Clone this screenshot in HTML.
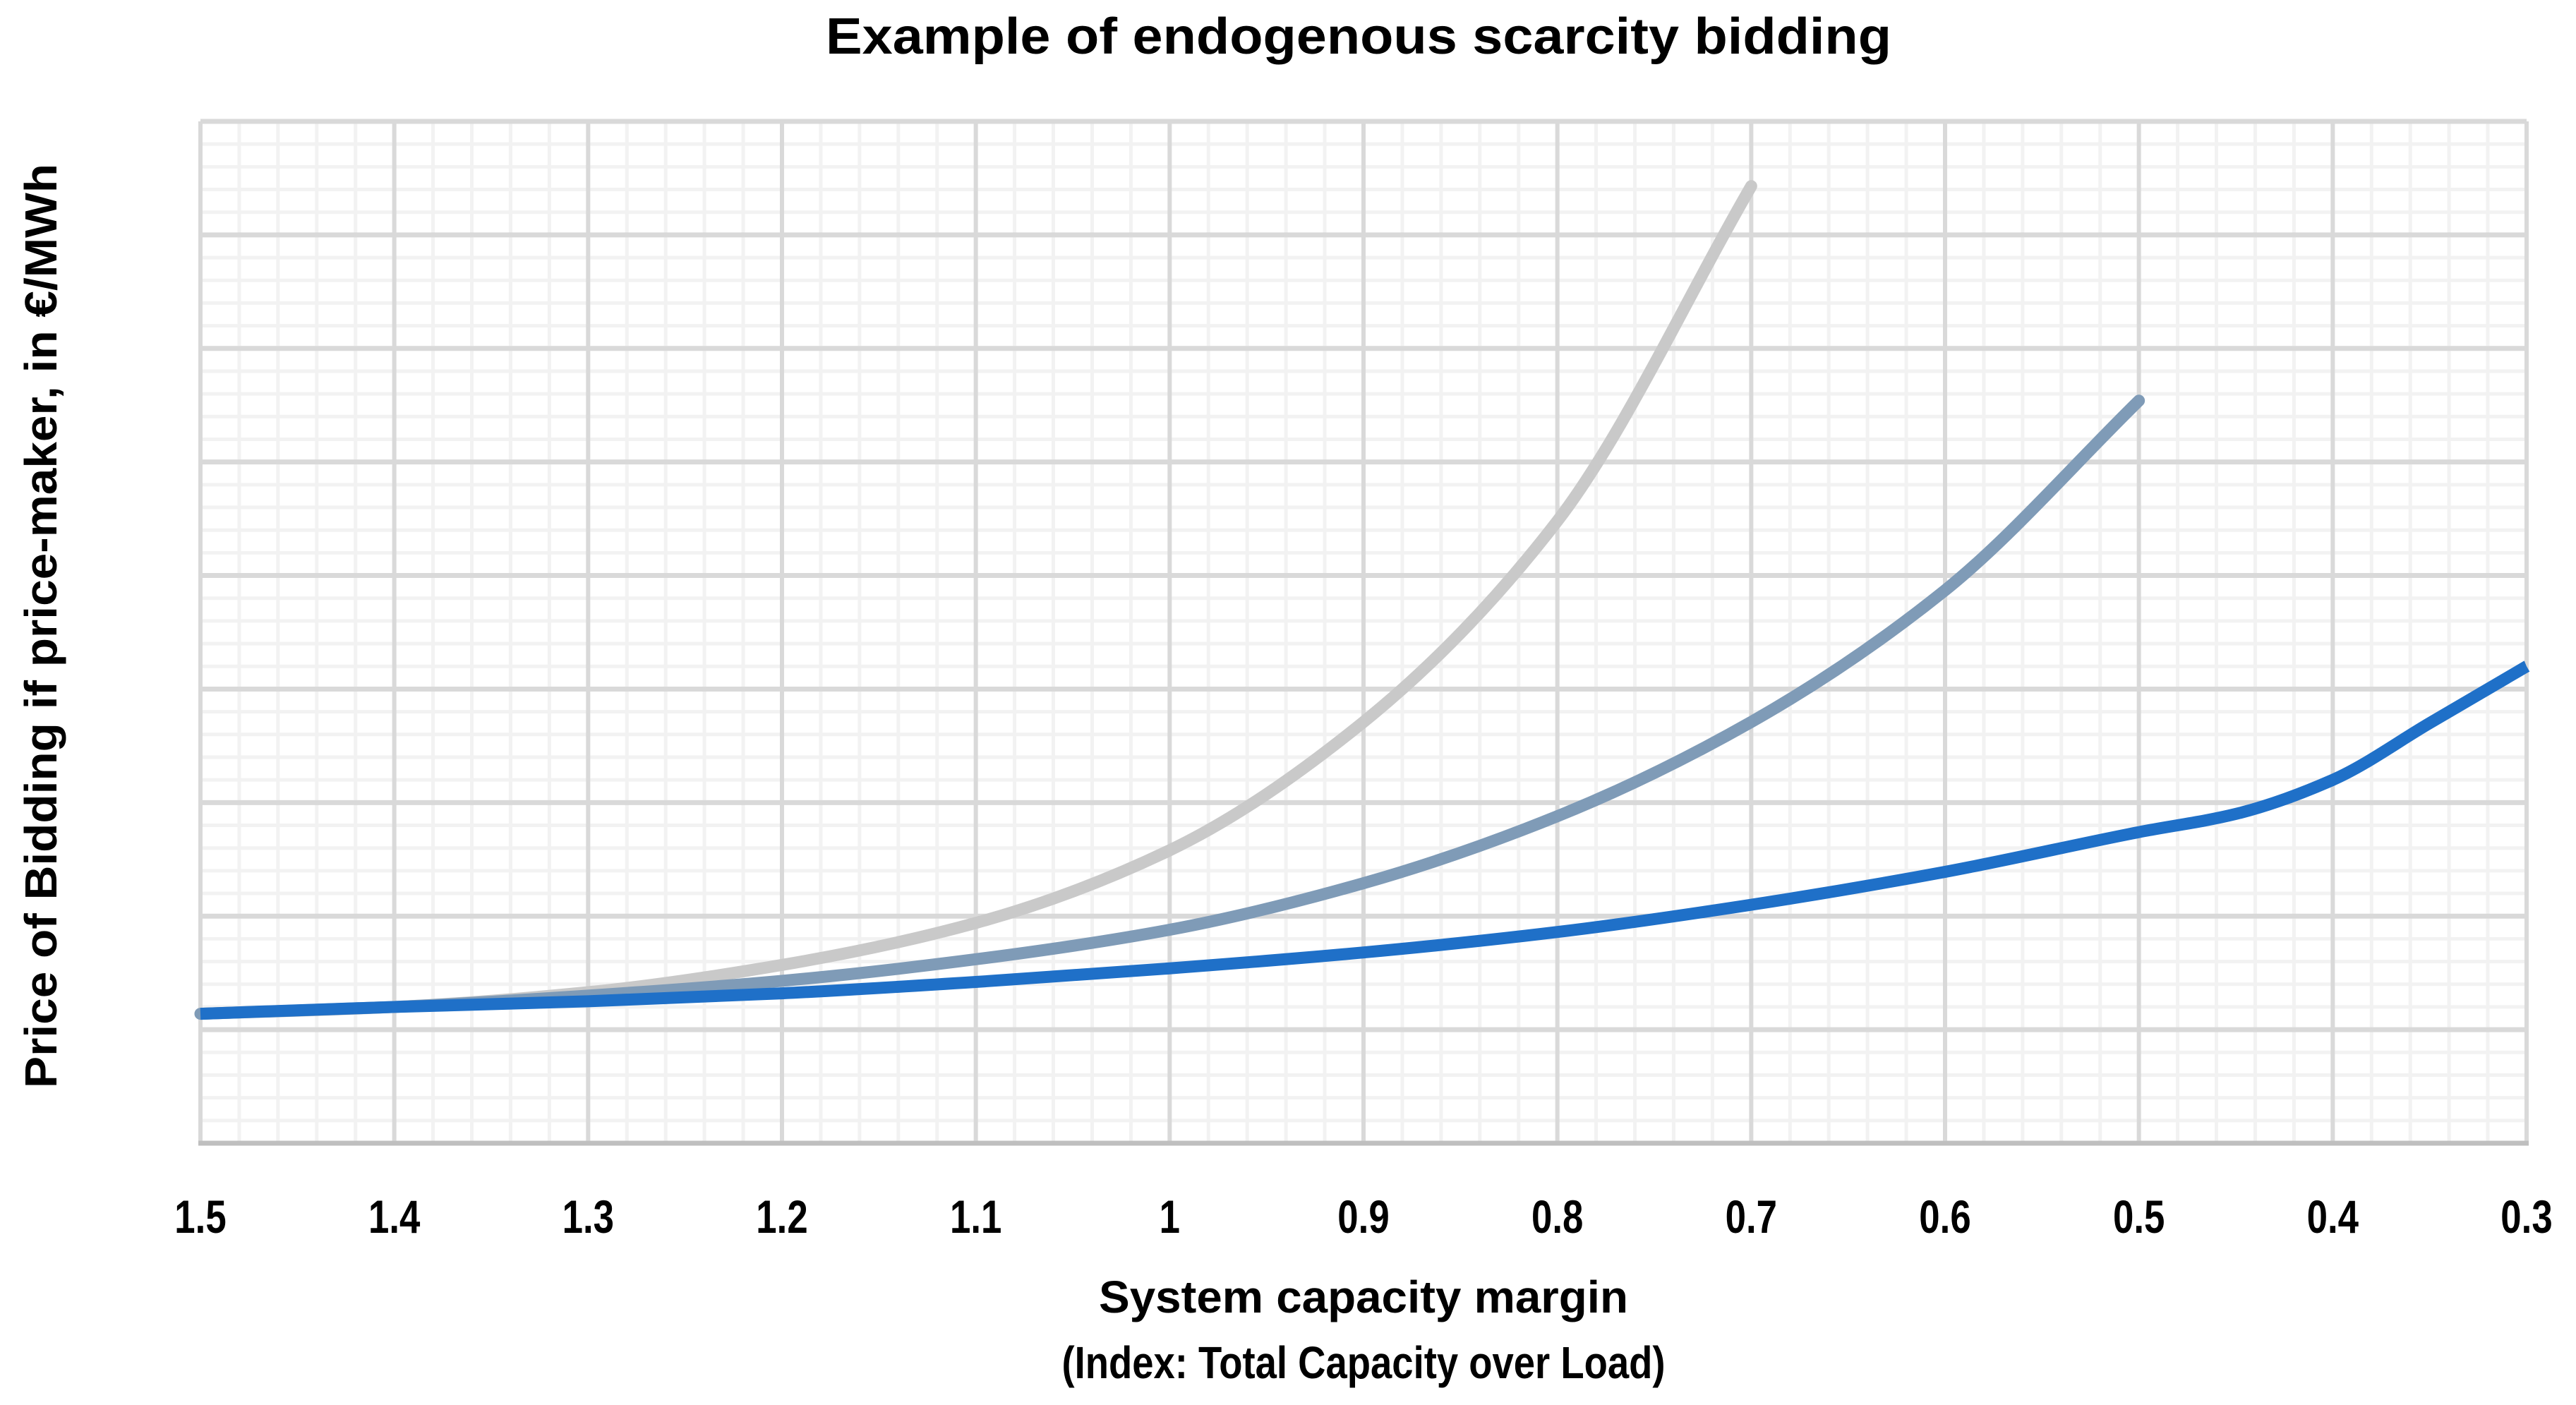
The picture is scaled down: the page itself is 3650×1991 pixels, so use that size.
<!DOCTYPE html>
<html><head><meta charset="utf-8"><style>
html,body{margin:0;padding:0;background:#fff;}
svg{display:block;font-family:"Liberation Sans",sans-serif;font-weight:bold;}
</style></head><body>
<svg id="chart" width="3650" height="1991" viewBox="0 0 3650 1991" xmlns="http://www.w3.org/2000/svg">
<text x="1925" y="76" font-size="72" text-anchor="middle" textLength="1510" lengthAdjust="spacingAndGlyphs">Example of endogenous scarcity bidding</text>
<g id="grid"></g>
<g id="series"></g>
<g id="xticks"></g>
<text x="1932" y="1860" font-size="64" text-anchor="middle" textLength="750" lengthAdjust="spacingAndGlyphs">System capacity margin</text>
<text x="1932" y="1953" font-size="64" text-anchor="middle" textLength="855" lengthAdjust="spacingAndGlyphs">(Index: Total Capacity over Load)</text>
<text x="0" y="0" font-size="64" text-anchor="middle" textLength="1310" lengthAdjust="spacingAndGlyphs" transform="translate(80,887) rotate(-90)">Price of Bidding if price-maker, in €/MWh</text>
</svg>
<script>
const xTicks = [1.5,1.4,1.3,1.2,1.1,1.0,0.9,0.8,0.7,0.6,0.5,0.4,0.3];
const xTickLabels = ["1.5","1.4","1.3","1.2","1.1","1","0.9","0.8","0.7","0.6","0.5","0.4","0.3"];
const grayX = [1.5,1.4,1.3,1.2,1.1,1.0,0.9,0.8,0.7];
const grayY = [1.14,1.20,1.33,1.57,1.94,2.58,3.71,5.48,8.43];
const midX = [1.5,1.4,1.3,1.2,1.1,1.0,0.9,0.8,0.7,0.6,0.5];
const midY = [1.14,1.20,1.30,1.43,1.62,1.88,2.29,2.88,3.71,4.87,6.54];
const blueX = [1.5,1.4,1.3,1.2,1.1,1.0,0.9,0.8,0.7,0.6,0.5,0.45,0.4,0.35,0.3];
const blueY = [1.14,1.20,1.25,1.32,1.42,1.54,1.68,1.86,2.10,2.39,2.74,2.90,3.20,3.70,4.20];

const L=284,R=3580,T=172,B=1620,YMAX=9;
const NS='http://www.w3.org/2000/svg';
function sx(v){return L+(1.5-v)/(1.5-0.3)*(R-L);}
function sy(v){return B-v/YMAX*(B-T);}
function mk(tag,attrs,parent){const e=document.createElementNS(NS,tag);for(const k in attrs)e.setAttribute(k,attrs[k]);parent.appendChild(e);return e;}
const grid=document.getElementById('grid');
for(let i=0;i<=60;i++){const x=L+i*(R-L)/60;if(i%5===0)continue;
 const ln=mk('line',{x1:x,x2:x,y1:T,y2:B,stroke:'#f2f2f2','stroke-width':5},grid);
 
 }
for(let j=0;j<=45;j++){const y=T+j*(B-T)/45;if(j%5===0)continue;
 const ln=mk('line',{x1:L,x2:R,y1:y,y2:y,stroke:'#f2f2f2','stroke-width':5},grid);
 
 }
for(let i=0;i<=12;i++){const x=L+i*(R-L)/12;
 const ln=mk('line',{x1:x,x2:x,y1:T,y2:B,stroke:'#d9d9d9','stroke-width':6},grid);
 
 }
for(let j=0;j<9;j++){const y=T+j*(B-T)/9;
 const ln=mk('line',{x1:L,x2:R,y1:y,y2:y,stroke:'#d9d9d9','stroke-width':7},grid);
 
 }
const ax=mk('line',{x1:L-3,x2:R+3,y1:B,y2:B,stroke:'#bfbfbf','stroke-width':7},grid);



const xt=document.getElementById('xticks');
xTicks.forEach((v,i)=>{const t=mk('text',{x:0,y:0,'font-size':66,'text-anchor':'middle',transform:'translate('+sx(v)+',1747) scale(0.8,1)'},xt);t.textContent=xTickLabels[i];
 
 });

// monotone cubic (Fritsch-Carlson) in pixel space
function path(xs,ys){const X=xs.map(sx),Y=ys.map(sy),n=X.length;
 const h=[],d=[];for(let i=0;i<n-1;i++){h.push(X[i+1]-X[i]);d.push((Y[i+1]-Y[i])/h[i]);}
 const m=new Array(n);m[0]=d[0];m[n-1]=d[n-2];
 for(let i=1;i<n-1;i++){if(d[i-1]*d[i]<=0)m[i]=0;else{const w1=2*h[i]+h[i-1],w2=h[i]+2*h[i-1];m[i]=(w1+w2)/(w1/d[i-1]+w2/d[i]);}}
 let s='M'+X[0]+','+Y[0];
 for(let i=0;i<n-1;i++){const dx=h[i]/3;
  s+=' C'+(X[i]+dx)+','+(Y[i]+m[i]*dx)+' '+(X[i+1]-dx)+','+(Y[i+1]-m[i+1]*dx)+' '+X[i+1]+','+Y[i+1];}
 return s;}
const sg=document.getElementById('series');
const s1=mk('path',{d:path(grayX,grayY),fill:'none',stroke:'#c9c9c9','stroke-width':17,'stroke-linecap':'round'},sg);


const s2=mk('path',{d:path(midX,midY),fill:'none',stroke:'#7f9bb7','stroke-width':17,'stroke-linecap':'round'},sg);


const s3=mk('path',{d:path(blueX,blueY),fill:'none',stroke:'#1f70c8','stroke-width':17,'stroke-linecap':'butt'},sg);


</script>
</body></html>
